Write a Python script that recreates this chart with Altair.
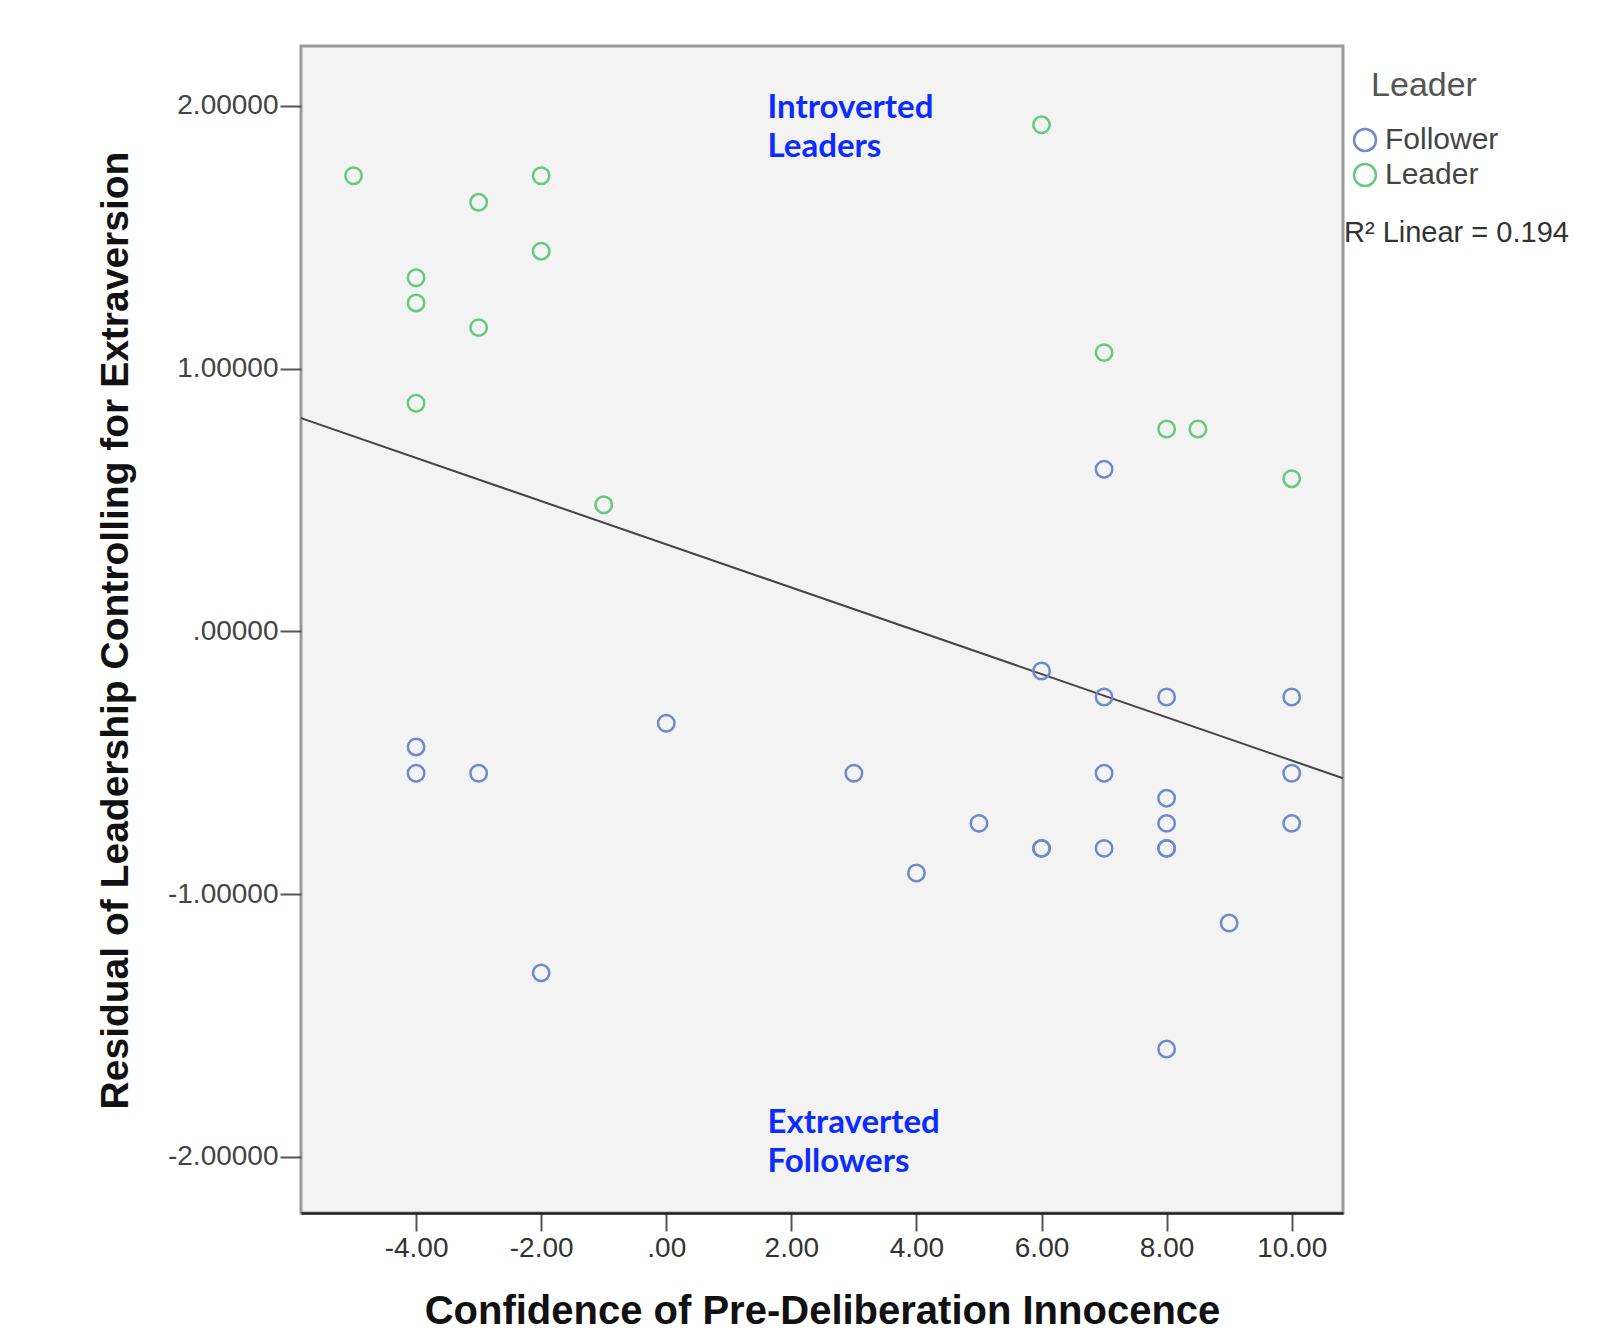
import altair as alt
import pandas as pd

# ---- data ----
leader_x = [-5, -3, -2, -2, -4, -4, -3, -4, -1, 6, 7, 8, 8.5, 10]
leader_y = [1.734, 1.633, 1.734, 1.447, 1.346, 1.25, 1.156, 0.868, 0.482, 1.928, 1.061, 0.770, 0.770, 0.581]

follower_x = [7, 6, 7, 8, 10, 0, -4, -4, -3, 3, 7, 10, 8, 5, 8, 10, 6, 6, 7, 8, 8, 4, 9, -2, 8]
follower_y = [0.617, -0.151, -0.25, -0.25, -0.25, -0.35, -0.44, -0.54, -0.54, -0.54, -0.54, -0.54,
              -0.635, -0.731, -0.731, -0.731, -0.826, -0.826, -0.826, -0.826, -0.826, -0.92, -1.11,
              -1.30, -1.59]

group_names = ["Follower", "Leader"]
group_colors = ["#7088cc", "#66c97f"]

x_ticks = [-4, -2, 0, 2, 4, 6, 8, 10]
y_ticks = [-2, -1, 0, 1, 2]
x_domain = [-5.84, 10.82]
y_domain = [-2.214, 2.228]

annot_text = ["Introverted\nLeaders", "Extraverted\nFollowers"]
annot_x = [1.62, 1.62]
annot_y = [2.052, -1.810]

r2_label = "R\u00b2 Linear = 0.194"

x_title = "Confidence of Pre-Deliberation Innocence"
y_title = "Residual of Leadership Controlling for Extraversion"

df = pd.DataFrame({
    "x": follower_x + leader_x,
    "y": follower_y + leader_y,
    "group": ["Follower"] * len(follower_x) + ["Leader"] * len(leader_x),
})
annot_df = pd.DataFrame({"x": annot_x, "y": annot_y, "t": annot_text})
r2_df = pd.DataFrame({"t": [r2_label]})

xs = alt.Scale(domain=x_domain, nice=False, zero=False)
ys = alt.Scale(domain=y_domain, nice=False, zero=False)

x_axis = alt.Axis(
    values=x_ticks,
    labelExpr="datum.value == 0 ? '.00' : (datum.value < 0 ? '-' : '') + format(abs(datum.value), '.2f')",
    grid=False, tickSize=18, tickColor="#555", tickWidth=2,
    labelFont="Liberation Sans", labelFontSize=28, labelColor="#333",
    labelPadding=3, domainColor="#222", domainWidth=2.5,
    title=x_title, titleFont="Liberation Sans", titleFontSize=40,
    titleFontWeight="bold", titleColor="#111", titleBaseline="bottom",
    titleY=118,
)
y_axis = alt.Axis(
    values=y_ticks,
    labelExpr="datum.value == 0 ? '.00000' : (datum.value < 0 ? '-' : '') + format(abs(datum.value), '.5f')",
    grid=False, tickSize=21, tickColor="#555", tickWidth=2,
    labelFont="Liberation Sans", labelFontSize=28, labelColor="#444",
    labelPadding=2, domain=False,
    title=y_title, titleFont="Liberation Sans", titleFontSize=39,
    titleFontWeight="bold", titleColor="#111", titleAngle=270,
    titleBaseline="middle", titleAlign="center", titleX=-186, titleY=584,
)

points = alt.Chart(df).mark_point(
    shape="circle", filled=False, size=270, strokeWidth=2.5, opacity=1
).encode(
    x=alt.X("x:Q", scale=xs, axis=x_axis),
    y=alt.Y("y:Q", scale=ys, axis=y_axis),
    color=alt.Color(
        "group:N",
        scale=alt.Scale(domain=group_names, range=group_colors),
        legend=alt.Legend(
            title="Leader", orient="none", legendX=1049, legendY=23,
            titleFont="Liberation Sans", titleFontSize=34, titleFontWeight="normal",
            titleColor="#555", titleAnchor="middle", titlePadding=22,
            labelFont="Liberation Sans", labelFontSize=30, labelColor="#444",
            symbolType="circle", symbolSize=480, symbolStrokeWidth=2.5,
            symbolFillColor="transparent", rowPadding=3, padding=0, labelOffset=5,
        ),
    ),
)

line = alt.Chart(df).transform_regression(
    "x", "y", extent=x_domain
).mark_line(color="#444", strokeWidth=2).encode(
    x=alt.X("x:Q", scale=xs),
    y=alt.Y("y:Q", scale=ys),
)

annots = alt.Chart(annot_df).mark_text(
    align="left", baseline="top", lineBreak="\n", lineHeight=39,
    font="Lato", fontSize=33, fontWeight="bold", color="#0b2bff",
).encode(
    x=alt.X("x:Q", scale=xs),
    y=alt.Y("y:Q", scale=ys),
    text="t:N",
)

r2 = alt.Chart(r2_df).mark_text(
    align="left", baseline="alphabetic", font="Liberation Sans",
    fontSize=29, color="#333",
).encode(
    x=alt.value(1043), y=alt.value(196), text="t:N",
)

chart = alt.layer(line, points, annots, r2).properties(
    width=1042, height=1167,
    autosize=alt.AutoSizeParams(type="none"),
    padding={"left": 293, "top": 38, "right": 260, "bottom": 118},
    background="white",
).configure_view(
    fill="#f3f3f3", stroke="#9a9a9a", strokeWidth=3, strokeOpacity=1,
)

chart.save("out.html", embed_options={"renderer": "svg", "actions": False})
